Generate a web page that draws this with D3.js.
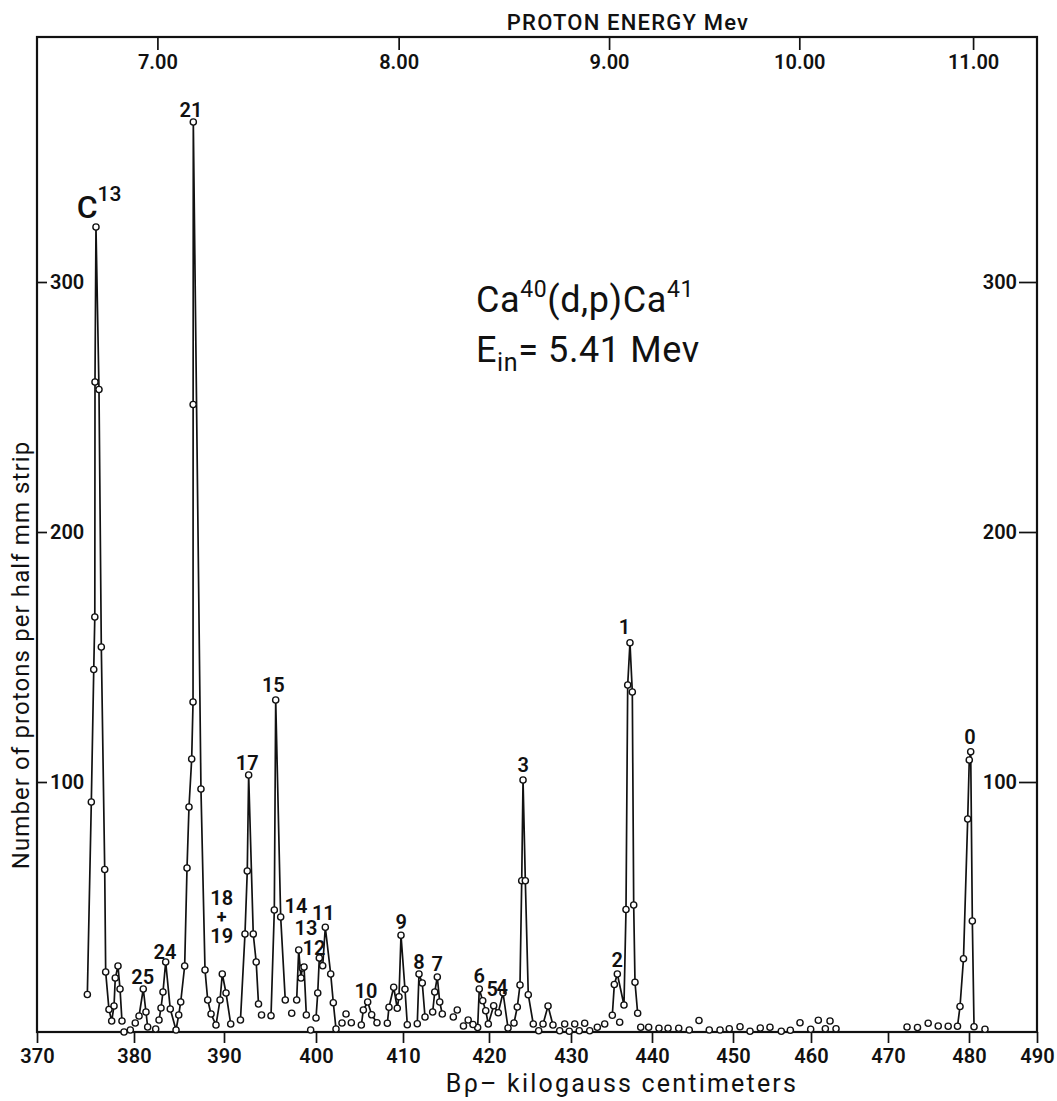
<!DOCTYPE html>
<html><head><meta charset="utf-8">
<script src="https://cdn.jsdelivr.net/npm/d3@7"></script>
<style>
body{margin:0;background:#fff}
svg text{font-family:Roboto,"DejaVu Sans Condensed",sans-serif;fill:#111}
</style>
</head><body>
<svg id="c" width="1057" height="1101"></svg>
<script>
// ---------- data (Bρ in kilogauss·cm, counts per half-mm strip) ----------
const brhoTicks = [370,380,390,400,410,420,430,440,450,460,470,480,490];
const countTicks = [100,200,300];
const energyTickLabels = ["7.00","8.00","9.00","10.00","11.00"];
const energyTickBrho = [382.6,409.5,434.7,458.5,480.6];

// connected runs of measured points [Bρ, count]
const runC13 = [[375.19,15],[375.60,92],[375.85,145],[375.96,166],[375.98,260],[376.08,322],[376.39,257],[376.63,154],[376.98,65],[377.08,24],[377.42,9],[377.70,4.4],[377.94,10.4],[378.07,21.6],[378.35,26.4],[378.56,17.2],[378.76,4.4]];
const run25 = [[380.56,6.4],[381.03,17.2],[381.33,8],[381.52,2]];
const run24_21 = [[382.78,4.8],[383.0,9.6],[383.22,16],[383.52,28],[384.03,9.2],[384.67,0.8],[384.97,6.8],[385.19,12],[385.63,26.4],[385.89,65.6],[386.11,90],[386.41,109.2],[386.56,132],[386.57,251],[386.59,364],[387.44,97.2],[387.89,24.8],[388.19,12.8],[388.56,7.2],[389.11,2.8],[389.56,12.8],[389.81,23.2],[390.22,15.6],[390.73,3.2]];
const run17 = [[391.79,4.8],[392.28,39.2],[392.53,64.4],[392.68,102.8],[393.18,39.2],[393.5,28],[393.75,11.2]];
const run15 = [[395.11,6.5],[395.47,48.8],[395.62,132.8],[396.16,46],[396.66,12.8]];
const run14_13 = [[397.9,12.8],[398.12,32.8],[398.37,21.6],[398.51,25.6],[398.7,26],[398.95,6.8]];
const run12_11 = [[400.0,5.6],[400.2,15.6],[400.38,29.6],[400.77,26.5],[401.07,41.9],[401.69,23.2],[401.99,11.7],[402.3,1.2]];
const run10 = [[405.21,2.8],[405.44,8.8],[405.94,12],[406.4,6.9],[407.01,3.7]];
const run9 = [[408.2,3.5],[408.39,9.9],[408.93,17.9],[409.34,9.5],[409.54,14.1],[409.77,38.7],[410.23,17.1],[410.5,2.9]];
const run8 = [[411.66,3.3],[411.86,23.2],[412.24,19.6],[412.56,6]];
const run7 = [[413.45,8],[413.69,16],[413.99,22],[414.27,12],[414.57,7.2]];
const run6_5_4 = [[418.68,1.8],[418.87,17.2],[419.27,12.5],[419.62,8.5],[419.92,3.2],[420.57,10.5],[421.13,7.7],[421.71,15.7],[422.32,1.6]];
const run3 = [[423.05,3.6],[423.45,10],[423.78,18.8],[423.99,60.5],[424.15,100.8],[424.43,60.5],[424.79,14.9],[425.4,3.2]];
const runBump = [[426.59,3.2],[427.2,10.4],[427.8,2.8]];
const run2_1 = [[435.1,6.7],[435.35,19],[435.72,23.2],[436.54,10.8],[436.79,49],[437.0,138.8],[437.28,155.7],[437.57,136],[437.74,50.8],[437.9,19.9],[438.23,7.5]];
const run0 = [[478.58,2.3],[478.89,10.2],[479.32,29.3],[479.84,85.2],[480.04,108.8],[480.25,112.1],[480.49,44.4],[480.74,2.1]];

const runs = [runC13,run25,run24_21,run17,run15,run14_13,run12_11,run10,run9,run8,run7,run6_5_4,run3,runBump,run2_1,run0];

// isolated (unconnected) measured points
const isolated = [[378.97,0],[379.62,0.8],[380.14,3.6],[382.41,1.2],[394.08,6.8],[397.36,7.5],[399.42,0.8],
 [402.99,3.6],[403.45,7.2],[404.06,3.7],[415.85,6],[416.31,8.8],[417.03,2.4],[417.58,4.8],[418.14,3],
 [426.06,0.5],[428.62,0.5],[429.23,3.2],[429.79,0.3],[430.46,3.2],[431.02,0.5],[431.69,3.5],[432.31,0.5],[433.25,1.9],[434.16,3.2],
 [436.01,3.9],[438.61,1.9],[439.59,1.9],[440.86,1.5],[441.98,1.5],[443.3,1.5],[444.6,0.8],[445.8,4.6],[447.07,0.8],[448.4,0.8],[449.54,1.3],
 [450.9,2.1],[452.18,0.3],[453.5,1.6],[454.74,1.9],[456.19,0.3],[457.35,0.7],[458.59,3.7],[459.96,1.1],[460.95,4.7],[461.86,1.3],[462.47,4.4],[463.25,1.3],
 [472.35,2],[473.64,1.8],[474.96,3.5],[476.2,2.4],[477.43,2.3],[482.35,1.1]];

// peak labels: [text, Bρ, count]
const peakLabels = [["21",386.33,368.8],["17",392.53,107.6],["15",395.36,138.8],["18",389.74,53.8],["19",389.74,38.4],
 ["25",380.97,22.1],["24",383.44,32.1],["14",397.83,50.4],["13",398.91,41.7],["12",399.78,33.6],["11",400.84,47.6],
 ["10",405.75,16.4],["9",409.8,44.1],["8",411.86,28.1],["7",413.99,27.2],["6",418.87,22.4],["5",420.4,17.1],["4",421.62,18.1],
 ["3",424.18,106.8],["2",435.72,28.8],["1",436.6,162.1],["0",480.15,118.1]];
const plusLabel = ["+",389.74,46];

// ---------- layout ----------
const L=37, R=1037, T=37, B=1032;
const svg = d3.select("#c");
// plate-position (non-uniform) Bρ scale, as read from the tick marks
const x = d3.scaleLinear().domain(brhoTicks).range([37,134,224,316,403,489,571,652,733,811,888,969,1037]);
const y = d3.scaleLinear().domain([0,398]).range([B,T]);

// frame
svg.append("rect").attr("x",L).attr("y",T).attr("width",R-L).attr("height",B-T)
  .attr("fill","none").attr("stroke","#111").attr("stroke-width",2.2);

function styleAxis(g){
  g.select(".domain").remove();
  g.selectAll(".tick line").attr("stroke","#111").attr("stroke-width",1.7);
  g.selectAll(".tick text").attr("font-size",20).attr("font-weight",600)
    .attr("fill","#111").attr("font-family","Roboto,sans-serif");
}
// bottom axis
svg.append("g").attr("transform",`translate(0,${B})`)
  .call(d3.axisBottom(x).tickValues(brhoTicks).tickFormat(d3.format("d")).tickSize(11).tickPadding(6))
  .call(styleAxis);
// top energy axis (ticks hang inside the frame)
const eAxis = d3.axisBottom(x).tickValues(energyTickBrho).tickFormat((d,i)=>energyTickLabels[i]).tickSize(13).tickPadding(5);
svg.append("g").attr("transform",`translate(0,${T})`).call(eAxis).call(styleAxis);
// left axis (inside)
svg.append("g").attr("transform",`translate(${L},0)`)
  .call(d3.axisRight(y).tickValues(countTicks).tickSize(10).tickPadding(3))
  .call(styleAxis);
// right axis (inside)
svg.append("g").attr("transform",`translate(${R},0)`)
  .call(d3.axisLeft(y).tickValues(countTicks).tickSize(18).tickPadding(2))
  .call(styleAxis);

// titles
svg.append("text").attr("x",628).attr("y",30).attr("text-anchor","middle")
  .attr("font-size",22).attr("font-weight",500).attr("letter-spacing",1.2).text("PROTON ENERGY Mev");
svg.append("text").attr("x",622).attr("y",1092).attr("text-anchor","middle")
  .attr("font-size",25).attr("letter-spacing",2.2).text("Bρ– kilogauss centimeters");
svg.append("text").attr("transform","translate(29,655) rotate(-90)").attr("text-anchor","middle")
  .attr("font-size",24).attr("letter-spacing",1.1).text("Number of protons per half mm strip");

// reaction annotation
const ann = svg.append("g");
const t1 = ann.append("text").attr("x",476).attr("y",312).attr("font-size",36).attr("letter-spacing",0.6);
t1.append("tspan").text("Ca");
t1.append("tspan").attr("dy",-15).attr("font-size",23).text("40");
t1.append("tspan").attr("dy",15).text("(d,p)Ca");
t1.append("tspan").attr("dy",-15).attr("font-size",23).text("41");
const t2 = ann.append("text").attr("x",476).attr("y",362).attr("font-size",36).attr("letter-spacing",0.6);
t2.append("tspan").text("E");
t2.append("tspan").attr("dy",9).attr("font-size",25).text("in");
t2.append("tspan").attr("dy",-9).text("= 5.41 Mev");

// C13 label
const c13 = svg.append("text").attr("x",x(375.12)-10).attr("y",y(330.4)).attr("dy","0.36em")
  .attr("font-size",32).attr("font-weight",500);
c13.append("tspan").text("C");
c13.append("tspan").attr("dy",-17).attr("font-size",21).text("13");

// lines
const line = d3.line().x(d=>x(d[0])).y(d=>y(d[1]));
svg.append("g").selectAll("path").data(runs).join("path")
  .attr("d",line).attr("fill","none").attr("stroke","#111").attr("stroke-width",1.7);

// points
const allPts = runs.flat().concat(isolated);
svg.append("g").selectAll("circle").data(allPts).join("circle")
  .attr("cx",d=>x(d[0])).attr("cy",d=>y(d[1])).attr("r",3.1)
  .attr("fill","#fff").attr("stroke","#111").attr("stroke-width",1.4);

// peak labels
svg.append("g").selectAll("text").data(peakLabels).join("text")
  .attr("x",d=>x(d[1])).attr("y",d=>y(d[2])).attr("dy","0.36em")
  .attr("text-anchor","middle").attr("font-size",20).attr("font-weight",600)
  .text(d=>d[0]);
svg.append("text").attr("x",x(plusLabel[1])).attr("y",y(plusLabel[2])).attr("dy","0.36em")
  .attr("text-anchor","middle").attr("font-size",18).attr("font-weight",700).text(plusLabel[0]);
</script>
</body></html>
